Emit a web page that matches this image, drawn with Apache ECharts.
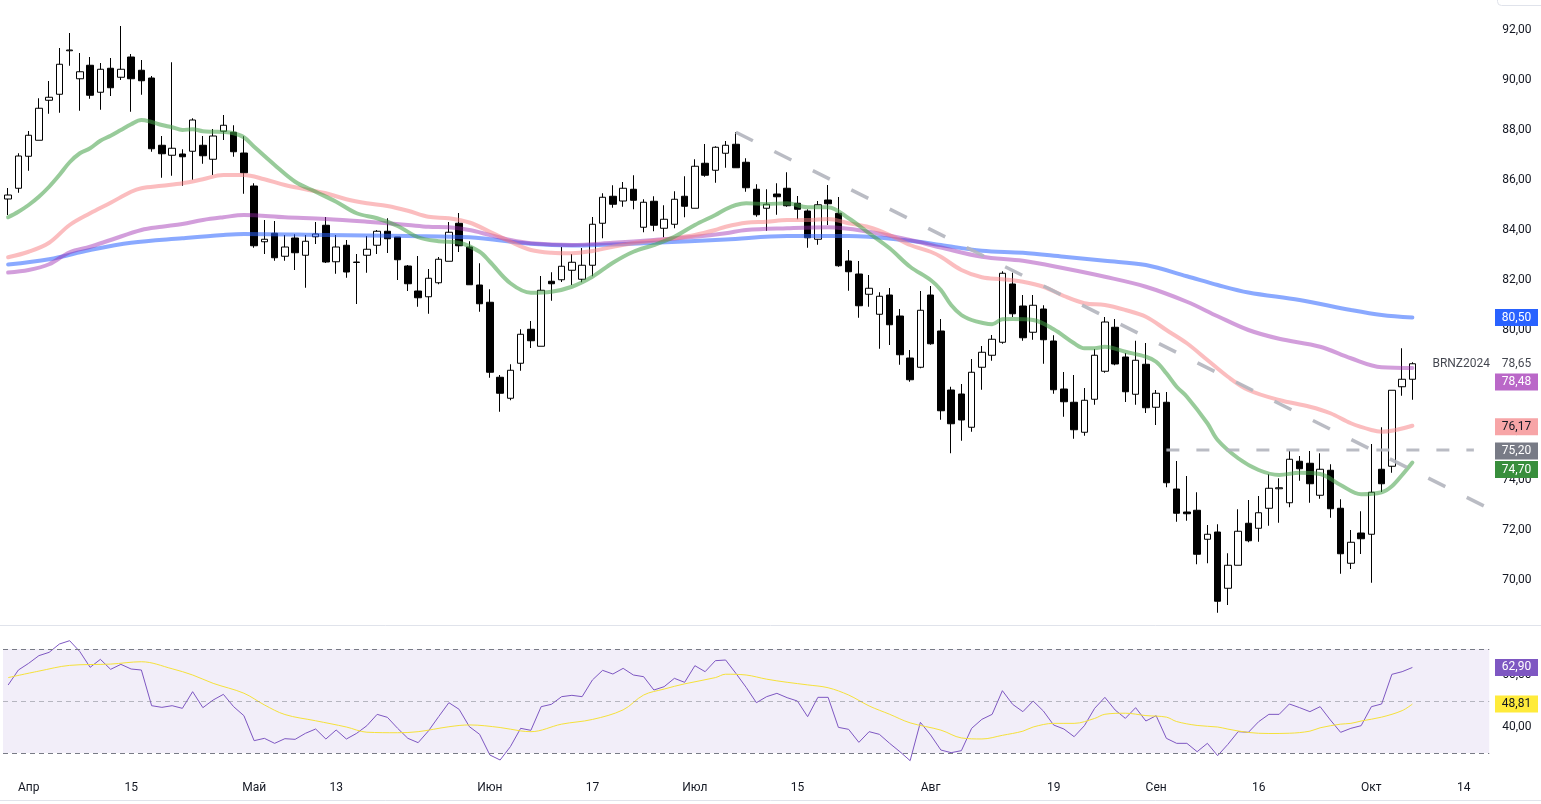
<!DOCTYPE html>
<html><head><meta charset="utf-8">
<script src="https://cdn.jsdelivr.net/npm/echarts@6/dist/echarts.min.js"></script>
<style>html,body{margin:0;padding:0;background:#fff}#c{width:1541px;height:804px}</style>
</head><body><div id="c"></div>
<script>
// ---- categories: trading days (weekdays) starting 2024-03-28 ----
const startDate = [2024, 2, 28];
const slotCount = 145;
const categories = [];
(function () {
  const d = new Date(Date.UTC(startDate[0], startDate[1], startDate[2]));
  while (categories.length < slotCount) {
    const wd = d.getUTCDay();
    if (wd !== 0 && wd !== 6) categories.push(d.toISOString().slice(0, 10));
    d.setUTCDate(d.getUTCDate() + 1);
  }
})();

// x tick labels: [category index, text]
const xTickLabels = [[2,'Апр'],[12,'15'],[24,'Май'],[32,'13'],[47,'Июн'],[57,'17'],[67,'Июл'],[77,'15'],[90,'Авг'],[102,'19'],[112,'Сен'],[122,'16'],[133,'Окт'],[142,'14']];
const priceTicks = [70,72,74,76,78,80,82,84,86,88,90,92];
const rsiTicks = [40,60];

// ---- OHLC ----
const open = [85.24,85.67,86.95,87.59,89.19,89.43,91.17,90.05,90.59,89.51,
90.47,90.11,90.92,90.39,90.08,87.39,86.99,87.04,87.15,87.39,
86.83,87.95,87.91,87.08,85.76,83.53,83.87,82.95,83.68,82.99,
83.73,84.19,82.73,83.39,82.70,82.99,83.39,83.95,83.72,82.56,
81.56,81.33,81.89,82.75,84.27,83.32,81.80,81.11,78.11,77.27,
78.67,80.03,79.35,81.95,82.01,82.39,82.03,82.59,84.27,85.35,
85.16,85.63,84.11,85.15,84.07,84.23,85.35,84.87,86.67,86.39,
87.07,87.43,86.71,85.63,84.87,85.44,85.67,85.07,84.76,83.63,
85.20,84.67,82.76,82.24,81.43,80.63,81.40,80.56,78.88,78.51,
81.40,79.96,77.60,77.44,76.11,78.51,78.99,79.51,81.84,80.96,
79.91,80.84,79.56,77.64,77.11,75.91,77.23,78.35,80.11,78.92,
77.43,78.63,76.91,77.11,73.64,72.72,72.79,71.63,71.92,69.67,
70.59,72.27,72.07,72.87,73.65,73.09,74.75,74.67,73.39,74.39,
72.87,70.67,71.88,71.83,74.43,74.55,77.73,78.03];
const high = [85.68,87.07,87.96,89.27,89.96,91.28,91.88,91.08,90.92,90.68,
90.88,92.16,91.04,90.80,90.16,87.76,90.71,87.23,88.47,87.76,
88.04,88.60,88.19,87.75,85.87,84.40,84.36,83.80,83.83,83.80,
84.32,84.52,83.80,83.60,83.04,83.76,84.00,84.47,83.72,82.60,
82.96,82.44,82.92,84.32,84.68,83.55,82.67,81.63,78.20,78.63,
80.03,80.36,82.16,82.31,83.32,83.04,83.28,84.52,85.47,85.79,
85.92,86.19,85.23,85.35,84.99,85.55,86.15,86.83,87.44,87.35,
87.56,87.91,86.87,85.83,85.63,85.87,86.31,85.36,84.83,85.16,
85.80,85.32,83.20,82.76,82.20,81.51,81.68,80.84,79.20,81.56,
81.76,80.44,77.73,77.84,78.84,79.36,79.80,82.35,82.29,81.40,
81.40,80.99,79.79,78.32,78.20,77.68,79.24,80.52,80.44,79.08,
79.57,79.48,77.60,77.52,74.76,74.16,73.51,72.20,72.23,71.07,
72.83,73.20,73.36,74.23,74.07,75.16,74.96,75.16,75.07,74.63,
73.23,72.00,72.75,75.44,76.11,77.59,79.27,78.71];
const low = [84.60,85.49,86.37,87.59,88.65,88.69,90.57,88.77,89.25,88.81,
89.36,90.00,88.73,89.41,87.13,86.09,86.17,85.77,86.01,86.65,
86.20,87.60,86.93,85.45,83.29,83.04,82.77,82.77,82.40,81.69,
83.44,82.68,82.25,82.09,81.04,82.29,83.04,83.08,82.00,81.56,
80.93,80.65,81.83,82.75,83.12,81.81,80.73,78.09,76.73,77.19,
78.37,79.28,79.35,81.17,81.92,81.80,81.91,82.15,83.67,84.89,
84.93,84.83,83.91,83.95,83.71,84.07,84.51,84.87,86.13,85.89,
86.49,86.49,85.53,84.53,83.97,84.61,84.93,84.43,83.29,83.41,
84.20,82.53,81.57,80.49,80.93,79.25,79.40,78.61,77.93,78.47,
79.41,76.41,75.07,75.57,75.93,77.61,78.77,79.45,80.52,79.57,
79.61,78.65,77.45,76.53,75.65,75.77,77.01,78.29,78.59,77.12,
77.01,76.68,76.20,73.71,72.33,72.37,70.63,70.67,68.69,69.00,
70.59,71.51,71.53,72.17,72.29,72.91,73.97,73.09,73.25,72.49,
70.25,70.44,71.04,69.89,73.52,74.29,77.37,77.21];
const close = [85.40,86.96,87.79,88.87,89.31,90.63,91.20,90.33,89.39,90.43,
89.69,90.43,90.05,89.97,87.25,87.05,87.27,86.93,88.40,86.97,
87.76,88.19,87.13,86.29,83.37,83.63,82.89,83.32,83.09,83.55,
83.84,82.72,83.32,82.32,82.72,83.23,83.95,83.65,82.81,81.85,
81.29,82.07,82.83,83.91,83.37,81.81,81.05,78.31,77.47,78.39,
79.83,79.57,81.59,81.85,82.55,82.71,82.59,84.23,85.31,85.03,
85.67,85.19,85.11,84.19,84.43,85.23,84.95,86.55,86.19,87.31,
87.39,86.49,85.69,84.61,85.03,85.33,84.97,84.83,83.69,85.01,
85.05,82.57,82.33,80.97,81.67,81.35,80.21,79.01,78.01,80.79,
79.45,76.77,76.25,76.40,78.31,79.11,79.63,82.27,80.65,79.69,
80.99,79.61,77.61,77.13,76.01,77.19,78.99,80.32,78.64,77.53,
78.79,76.89,77.47,73.89,72.67,72.65,71.03,71.83,69.15,70.59,
71.95,71.57,72.69,73.67,73.69,74.83,74.45,73.85,74.43,72.85,
71.05,71.51,71.65,73.51,73.85,77.59,78.03,78.65];

// ---- moving averages: [category index, value] ----
const maFast = [[0,84.51],[1,84.73],[2,85.0],[3,85.33],[4,85.73],[5,86.2],[6,86.71],[7,87.07],[8,87.27],[9,87.57],[10,87.77],[11,88.0],[12,88.23],[13,88.4],[14,88.32],[15,88.2],[16,88.11],[17,88.0],[18,88.03],[19,87.95],[20,87.93],[21,87.92],[22,87.87],[23,87.71],[24,87.33],[26,86.6],[28,85.93],[30,85.53],[32,85.13],[34,84.67],[36,84.47],[38,84.16],[40,83.71],[42,83.55],[44,83.49],[46,83.13],[47,82.73],[49,81.87],[51,81.49],[53,81.53],[55,81.73],[57,82.13],[59,82.69],[61,83.13],[63,83.4],[65,83.73],[67,84.2],[69,84.6],[70,84.83],[71,85.0],[72,85.07],[74,85.04],[76,85.07],[78,84.91],[80,84.91],[82,84.47],[84,83.87],[86,83.27],[88,82.53],[90,82.0],[91,81.6],[92,81.0],[93,80.6],[94,80.4],[95,80.29],[96,80.23],[97,80.43],[98,80.44],[100,80.4],[102,80.03],[104,79.47],[105,79.27],[106,79.27],[107,79.33],[109,79.13],[111,78.93],[112,78.73],[113,78.27],[114,77.73],[115,77.33],[117,76.27],[118,75.6],[120,74.87],[122,74.4],[124,74.2],[126,74.29],[128,74.24],[130,73.8],[132,73.43],[134,73.51],[135,73.75],[136,74.2],[137,74.70]];
const maMid = [[0,82.91],[2,83.13],[4,83.49],[6,84.2],[8,84.67],[10,85.09],[12,85.53],[13,85.67],[15,85.77],[17,85.87],[19,86.03],[21,86.2],[23,86.2],[25,86.03],[27,85.8],[29,85.63],[31,85.47],[33,85.23],[35,85.07],[37,84.96],[39,84.77],[41,84.53],[43,84.47],[45,84.3],[47,83.93],[49,83.53],[51,83.2],[53,83.09],[55,83.07],[57,83.16],[59,83.33],[61,83.47],[63,83.57],[65,83.67],[67,83.8],[69,84.0],[70,84.13],[72,84.29],[74,84.33],[76,84.4],[78,84.4],[80,84.44],[82,84.27],[84,84.11],[86,83.8],[88,83.4],[90,83.13],[91,82.93],[93,82.4],[95,82.11],[97,82.03],[99,81.93],[101,81.73],[103,81.36],[105,81.07],[107,81.0],[109,80.8],[111,80.53],[113,80.0],[115,79.47],[117,78.8],[119,78.13],[121,77.6],[124,77.2],[127,76.93],[129,76.67],[131,76.27],[133,76.0],[134,75.93],[137,76.17]];
const maSlow = [[0,82.3],[2,82.4],[4,82.63],[6,83.11],[8,83.33],[10,83.6],[13,84.0],[15,84.13],[17,84.24],[19,84.4],[21,84.51],[23,84.6],[27,84.51],[31,84.44],[35,84.33],[39,84.2],[41,84.13],[43,84.11],[45,84.0],[47,83.8],[49,83.6],[51,83.47],[55,83.4],[59,83.49],[63,83.6],[67,83.73],[70,83.87],[72,84.0],[76,84.07],[80,84.11],[84,83.93],[88,83.6],[91,83.3],[95,82.93],[99,82.77],[103,82.47],[107,82.13],[111,81.73],[115,81.13],[118,80.55],[121,80.0],[124,79.65],[128,79.33],[131,78.87],[134,78.51],[137,78.48]];
const maLong = [[0,82.62],[4,82.83],[8,83.2],[12,83.49],[17,83.67],[21,83.8],[23,83.84],[31,83.8],[39,83.76],[45,83.71],[51,83.45],[55,83.38],[63,83.49],[70,83.62],[76,83.76],[82,83.76],[88,83.57],[91,83.4],[95,83.17],[99,83.09],[103,82.93],[107,82.77],[111,82.6],[115,82.15],[118,81.8],[121,81.5],[126,81.2],[131,80.8],[134,80.6],[137,80.5]];

// drawn levels
const trendLine = [[71,87.91],[144,72.96]];
const levelLine = [[113,75.2],[143,75.2]];

// ---- RSI ----
const rsi = [56.15,61.92,64.49,67.44,68.72,71.92,73.2,68.97,62.95,66.03,
62.18,64.1,62.31,61.92,48.2,47.56,48.2,47.18,53.59,47.44,
50.38,52.56,47.82,44.36,34.74,35.64,33.72,35.51,35.26,37.56,
39.23,35.38,38.85,35.38,37.56,40.51,44.87,43.72,39.49,35.64,
33.97,38.46,43.97,49.36,46.79,40.13,37.18,29.23,27.31,32.44,
39.49,38.72,47.82,48.72,51.67,52.18,51.67,58.08,61.8,60.38,
62.56,60.0,59.36,54.23,55.51,58.72,57.18,63.59,61.28,65.51,
65.77,60.64,55.26,49.36,51.67,52.95,51.28,50.0,43.97,51.41,
51.41,39.87,39.1,34.1,38.21,37.18,33.72,30.51,27.05,41.79,
36.92,31.15,30.13,30.9,39.49,42.95,44.87,53.97,48.72,45.9,
50.0,46.15,40.77,39.23,36.28,40.51,47.18,51.41,46.54,43.33,
47.44,42.31,44.36,35.64,33.72,33.72,30.51,33.72,28.97,33.33,
38.21,37.95,42.05,44.87,44.87,48.85,47.44,45.9,47.82,42.69,
37.95,39.49,40.51,47.82,48.85,60.26,61.28,62.9];
const rsiMa = [[0,59.0],[3,61.5],[6,63.7],[10,64.2],[13,65.1],[16,62.4],[18,60.0],[20,56.8],[23,53.0],[25,48.5],[27,44.8],[30,42.4],[33,40.0],[35,38.0],[38,37.8],[40,38.2],[43,40.1],[45,40.8],[48,39.8],[50,38.5],[51,38.2],[54,41.1],[57,42.9],[60,46.6],[62,52.3],[64,54.6],[66,56.6],[69,59.0],[70,60.3],[72,60.0],[74,58.4],[76,57.2],[78,56.2],[80,55.1],[82,52.3],[84,48.1],[86,44.9],[88,41.6],[91,38.8],[93,35.8],[95,35.4],[97,36.8],[99,38.4],[100,40.0],[102,41.4],[104,41.4],[106,43.3],[107,44.9],[109,45.3],[111,44.4],[113,43.8],[114,42.1],[116,40.6],[118,40.0],[119,39.2],[121,37.9],[123,37.5],[125,37.6],[127,38.4],[128,39.7],[130,41.1],[131,41.4],[132,42.3],[134,43.8],[136,46.3],[137,48.81]];

// ---- axis tags ----
const priceTagValues = [80.50, 78.48, 76.17, 75.20, 74.70];
const priceTagColors = ['#2962ff', '#ba68c8', '#f7a5a7', '#787b86', '#388e3c'];
const priceTagText = ['#ffffff', '#ffffff', '#131722', '#ffffff', '#ffffff'];
const priceTagShift = [0, 14, 1, 1, 7];
const rsiTagValues = [62.90, 48.81];
const rsiTagColors = ['#7e57c2', '#ffeb3b'];
const rsiTagText = ['#ffffff', '#131722'];
const lastPrice = 78.65;
const symbolName = 'BRNZ2024';

// ---- build ----
const fmt = v => Number(v).toFixed(2).replace('.', ',');
const tickMap = new Map(xTickLabels);
const candles = open.map((o, i) => [o, close[i], low[i], high[i]]);
const FONT = 'Roboto, "Noto Sans", sans-serif';
const PMIN = 68.2, PMAX = 93.2, RMIN = 22.31, RMAX = 78.85;
const GL = 3, GR = 51.75;

function maSeries(data, color, opacity) {
  return { type: 'line', xAxisIndex: 0, yAxisIndex: 0, data: data, smooth: 0.35, showSymbol: false, silent: true, z: 3,
    lineStyle: { width: 4, color: color, opacity: opacity, cap: 'round', join: 'round' } };
}
function tagItems(vals, colors, texts, shifts) {
  return vals.map((v, i) => ({ value: [0.5, v], symbolOffset: [0, shifts ? shifts[i] : 0],
    itemStyle: { color: colors[i], opacity: 1 }, label: { color: texts[i] } }));
}

const chart = echarts.init(document.getElementById('c'), null, { renderer: 'canvas' });
chart.setOption({
  animation: false,
  backgroundColor: '#ffffff',
  textStyle: { fontFamily: FONT },
  grid: [
    { left: GL, right: GR, top: 0, height: 625 },
    { left: GL, right: GR, top: 626, height: 147 },
    { left: 1495, width: 43, top: 0, height: 625 },
    { left: 1495, width: 43, top: 626, height: 147 }
  ],
  xAxis: [
    { type: 'category', gridIndex: 0, data: categories, boundaryGap: true, show: false },
    { type: 'category', gridIndex: 1, data: categories, boundaryGap: true,
      axisLine: { show: false }, axisTick: { show: false }, splitLine: { show: false },
      axisLabel: { interval: (i) => tickMap.has(i), formatter: (v, i) => tickMap.get(i) || '',
        color: '#131722', fontSize: 12, margin: 9, fontFamily: FONT } },
    { type: 'value', gridIndex: 2, min: 0, max: 1, show: false },
    { type: 'value', gridIndex: 3, min: 0, max: 1, show: false }
  ],
  yAxis: [
    { type: 'value', gridIndex: 0, position: 'right', min: PMIN, max: PMAX, scale: true,
      splitLine: { show: false }, axisLine: { show: false }, axisTick: { show: false },
      axisLabel: { customValues: priceTicks, formatter: fmt, color: '#131722', fontSize: 12, margin: 13, fontFamily: FONT, verticalAlign: 'middle', lineHeight: 14, padding: [2, 0, 0, 0] } },
    { type: 'value', gridIndex: 1, position: 'right', min: RMIN, max: RMAX, scale: true,
      splitLine: { show: false }, axisLine: { show: false }, axisTick: { show: false },
      axisLabel: { customValues: rsiTicks, formatter: fmt, color: '#131722', fontSize: 12, margin: 13, fontFamily: FONT, verticalAlign: 'middle', lineHeight: 14, padding: [2, 0, 0, 0] } },
    { type: 'value', gridIndex: 2, min: PMIN, max: PMAX, show: false },
    { type: 'value', gridIndex: 3, min: RMIN, max: RMAX, show: false }
  ],
  series: [
    { type: 'candlestick', xAxisIndex: 0, yAxisIndex: 0, data: candles, barWidth: 7, z: 2, silent: true,
      itemStyle: { color: '#ffffff', color0: '#000000', borderColor: '#000000', borderColor0: '#000000', borderWidth: 1 } },
    maSeries(maLong, '#2962ff', 0.55),
    maSeries(maSlow, '#9c27b0', 0.45),
    maSeries(maMid, '#f77c80', 0.5),
    maSeries(maFast, '#43a047', 0.55),
    { type: 'line', xAxisIndex: 0, yAxisIndex: 0, data: trendLine, showSymbol: false, silent: true, z: 4,
      lineStyle: { width: 3.5, color: '#b2b5be', type: [19, 24], opacity: 0.9 } },
    { type: 'line', xAxisIndex: 0, yAxisIndex: 0, data: levelLine, showSymbol: false, silent: true, z: 4,
      lineStyle: { width: 3, color: '#b2b5be', type: [13, 17], opacity: 0.9 } },
    { type: 'line', xAxisIndex: 1, yAxisIndex: 1, data: rsi, showSymbol: false, silent: true, z: 3,
      lineStyle: { width: 1, color: '#7e57c2' },
      markArea: { silent: true, itemStyle: { color: 'rgba(126,87,194,0.1)' }, data: [[{ yAxis: 30 }, { yAxis: 70 }]] },
      markLine: { silent: true, symbol: 'none', label: { show: false },
        data: [
          { yAxis: 70, lineStyle: { color: '#787b86', type: [5, 4], width: 1 } },
          { yAxis: 50, lineStyle: { color: 'rgba(120,123,134,0.5)', type: [5, 4], width: 1 } },
          { yAxis: 30, lineStyle: { color: '#787b86', type: [5, 4], width: 1 } }
        ] } },
    { type: 'line', xAxisIndex: 1, yAxisIndex: 1, data: rsiMa, smooth: 0.35, showSymbol: false, silent: true, z: 3,
      lineStyle: { width: 1, color: '#f5e13a' } },
    { type: 'scatter', xAxisIndex: 2, yAxisIndex: 2, symbol: 'rect', symbolSize: [43, 17], z: 6, silent: true,
      itemStyle: { opacity: 1 },
      data: tagItems(priceTagValues, priceTagColors, priceTagText, priceTagShift),
      label: { show: true, position: 'inside', fontSize: 12, fontFamily: FONT, formatter: p => fmt(p.value[1]) } },
    { type: 'scatter', xAxisIndex: 3, yAxisIndex: 3, symbol: 'rect', symbolSize: [43, 17], z: 6, silent: true,
      itemStyle: { opacity: 1 },
      data: tagItems(rsiTagValues, rsiTagColors, rsiTagText, null),
      label: { show: true, position: 'inside', fontSize: 12, fontFamily: FONT, formatter: p => fmt(p.value[1]) } },
    { type: 'scatter', xAxisIndex: 2, yAxisIndex: 2, symbol: 'rect', symbolSize: [43, 17], z: 5, silent: true,
      itemStyle: { color: 'rgba(0,0,0,0)' },
      data: [
        { value: [0.5, lastPrice], label: { show: true, position: 'inside', formatter: fmt(lastPrice) } },
        { value: [0.5, lastPrice], label: { show: true, position: 'left', distance: 5, formatter: symbolName } }
      ],
      label: { color: '#131722', fontSize: 12, fontFamily: FONT } }
  ],
  graphic: [
    { type: 'line', silent: true, shape: { x1: 0, y1: 625.5, x2: 1541, y2: 625.5 }, style: { stroke: '#e0e3eb', lineWidth: 1 } },
    { type: 'line', silent: true, shape: { x1: 0, y1: 800.5, x2: 1541, y2: 800.5 }, style: { stroke: '#e0e3eb', lineWidth: 1 } },
    { type: 'rect', silent: true, shape: { x: 1497.5, y: -12, width: 52, height: 17.5, r: 4 }, style: { fill: 'none', stroke: '#e0e3eb', lineWidth: 1 } }
  ]
});
</script>
</body></html>
